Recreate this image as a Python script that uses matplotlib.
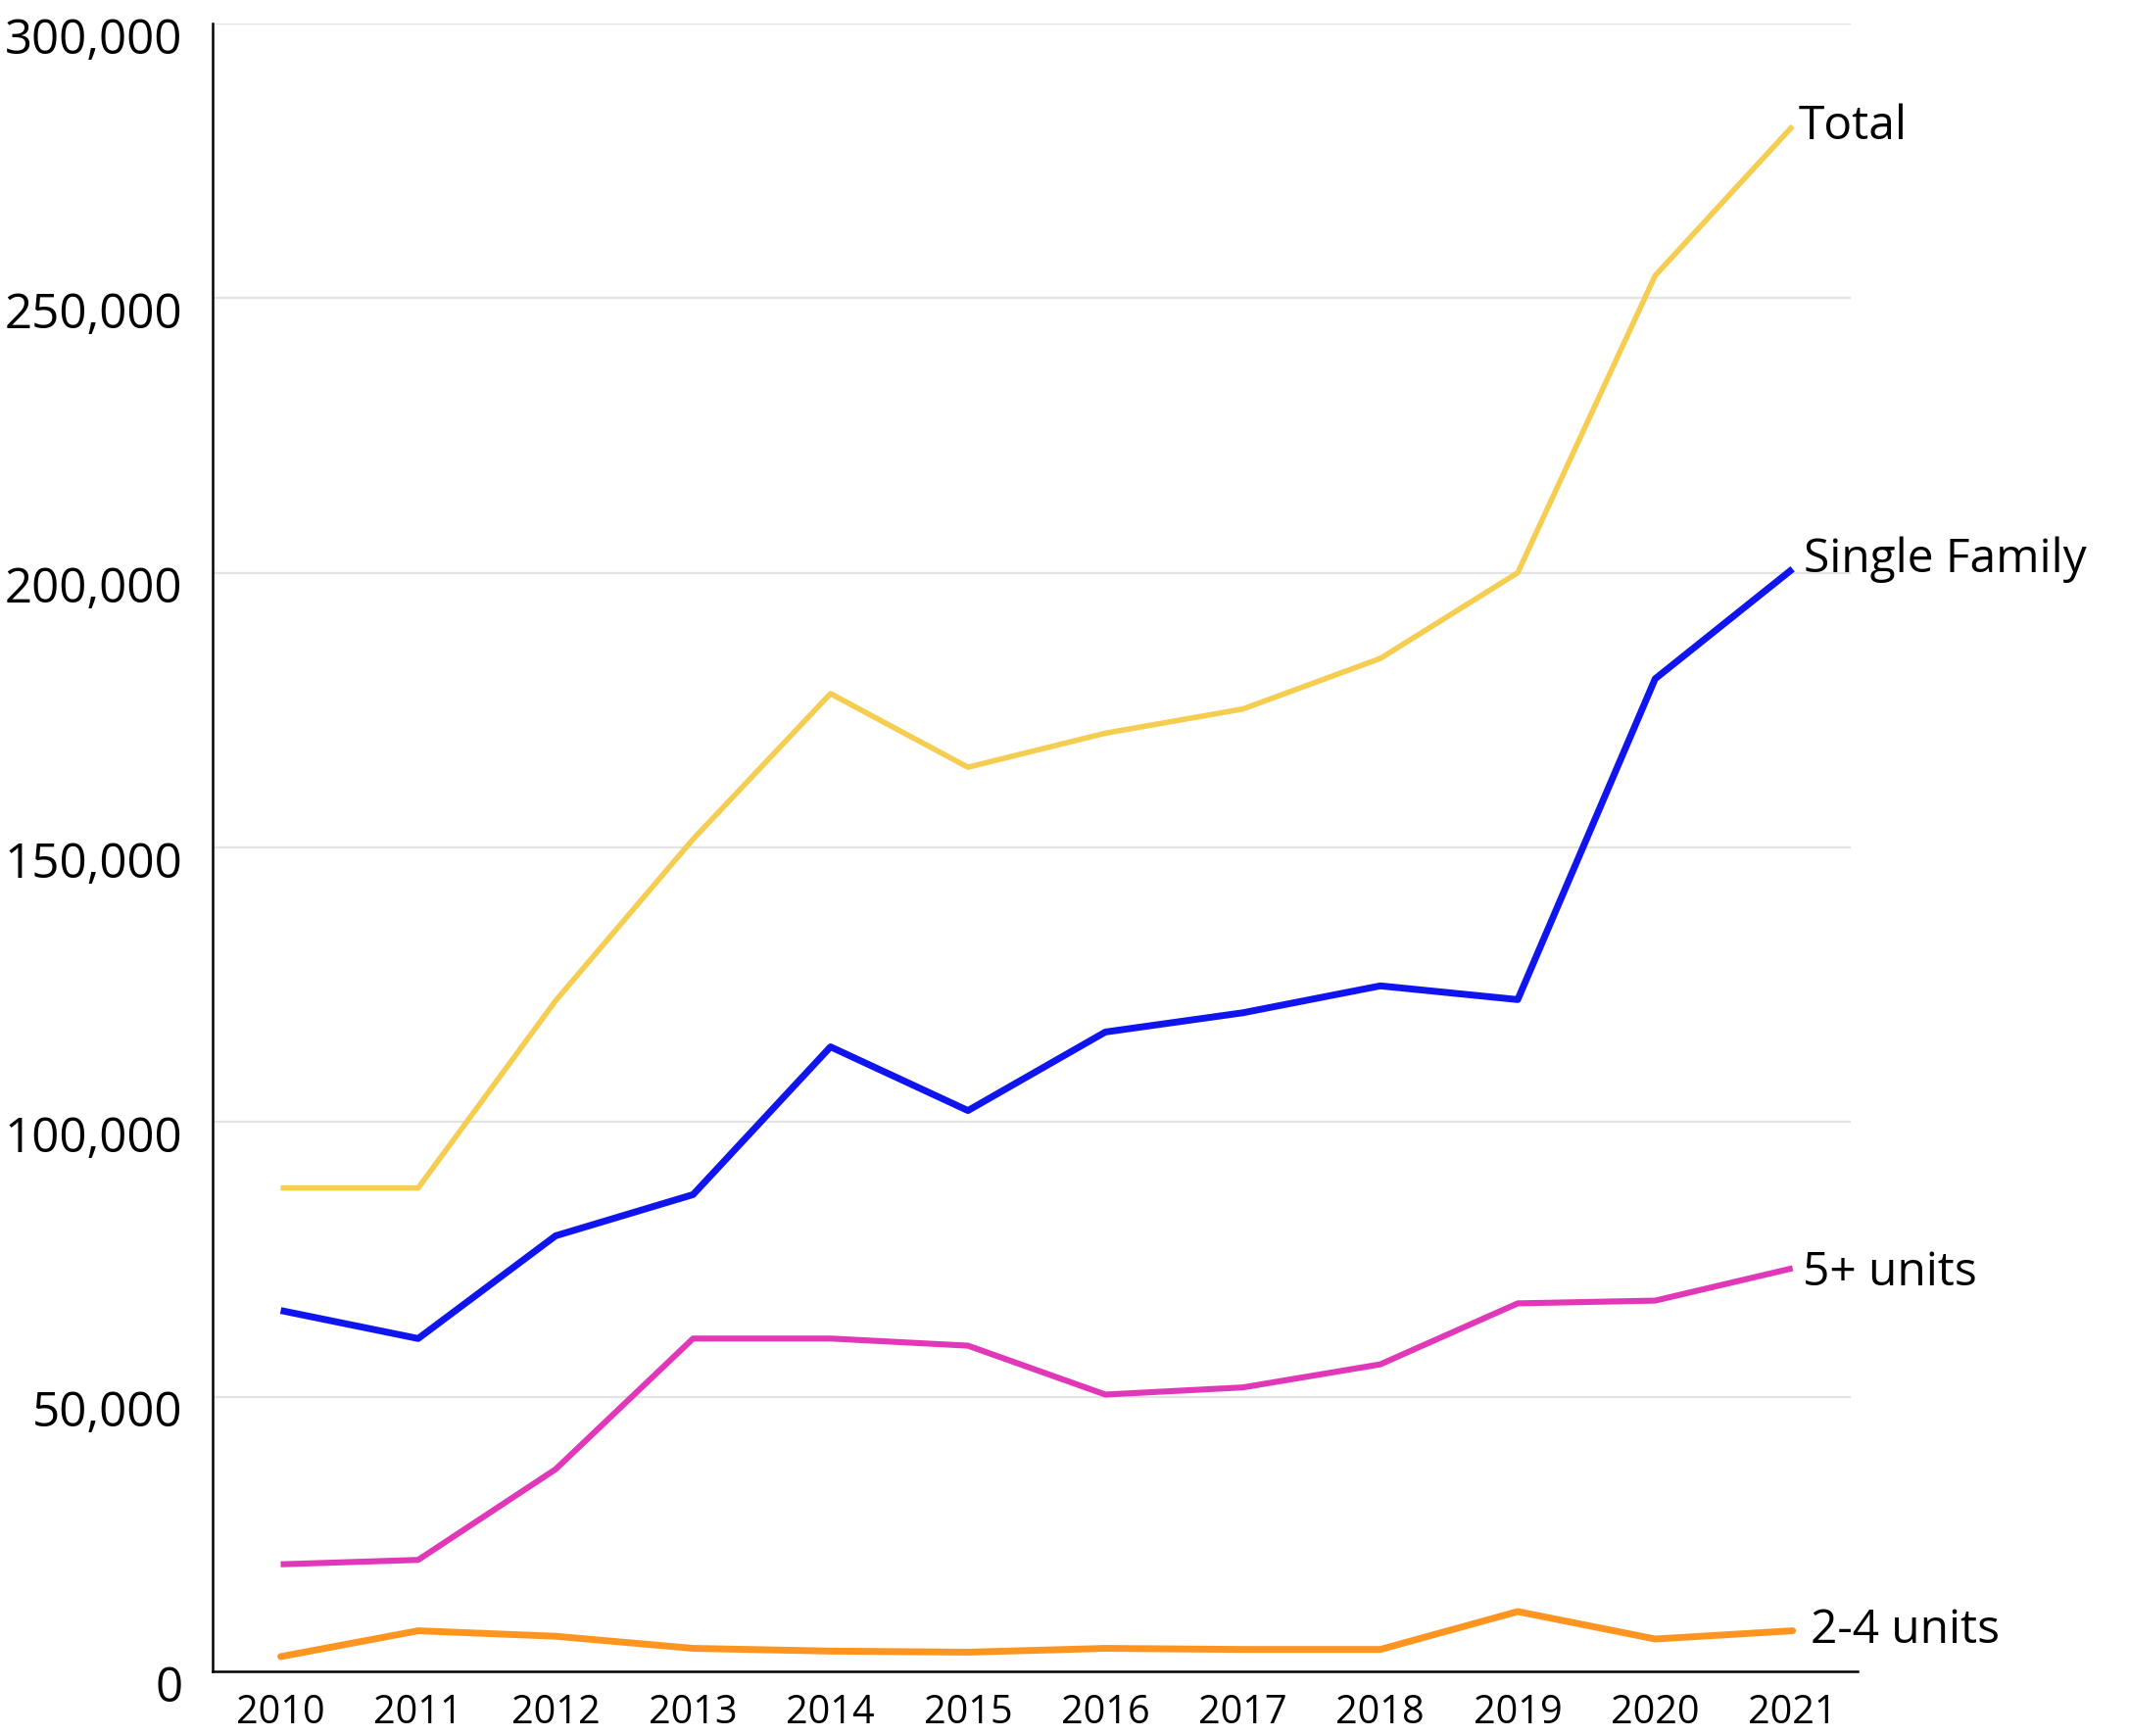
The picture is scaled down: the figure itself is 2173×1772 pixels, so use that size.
import matplotlib
matplotlib.use('Agg')
import matplotlib.pyplot as plt
import matplotlib.transforms as mtransforms
from matplotlib.ticker import FuncFormatter

plt.rcParams['font.family'] = ['Open Sans', 'DejaVu Sans']

# data
years = [2010, 2011, 2012, 2013, 2014, 2015, 2016, 2017, 2018, 2019, 2020, 2021]
total = [88000, 88000, 122100, 151500, 178000, 164600, 170800, 175200, 184400, 200000, 254100, 281300]
single_family = [65700, 60600, 79300, 86800, 113700, 102100, 116400, 119900, 124800, 122300, 180700, 200700]
five_plus = [19500, 20300, 36800, 60600, 60600, 59300, 50400, 51700, 55900, 67000, 67500, 73400]
two_four = [2700, 7400, 6400, 4200, 3700, 3500, 4200, 4000, 4000, 10900, 5900, 7400]

series_names = ['Total', 'Single Family', '5+ units', '2-4 units']
series_values = [total, single_family, five_plus, two_four]
colors = ['#F5CD50', '#1014EE', '#E038B8', '#FF9521']
widths = [4.0, 5.0, 4.4, 5.0]
label_offsets = [(6, 0), (11, 9), (10, -5), (18, 0)]

fig = plt.figure(figsize=(21.73, 17.72), dpi=100)
ax = fig.add_axes([0.0999, 0.0372, 0.7727, 0.9493])

for y in [50000, 100000, 150000, 200000, 250000, 300000]:
    ax.axhline(y, color='#e3e3e3', lw=1.6, zorder=0, xmax=0.995)

for name, vals, c, w, off in zip(series_names, series_values, colors, widths, label_offsets):
    cap = 'round' if name == '2-4 units' else 'butt'
    ax.plot(years, vals, color=c, lw=w, solid_capstyle=cap, zorder=3)
    ax.annotate(name, xy=(years[-1], vals[-1]), xytext=off, textcoords='offset pixels',
                ha='left', va='center', fontsize=34.5, color='black')

ax.set_xlim(2009.505, 2021.474)
ax.set_ylim(0, 300000)
ax.set_xticks(years)
ax.set_yticks(range(0, 300001, 50000))
ax.yaxis.set_major_formatter(FuncFormatter(lambda v, p: f'{int(v):,}'))

for s in ['top', 'right']:
    ax.spines[s].set_visible(False)
for s in ['left', 'bottom']:
    ax.spines[s].set_linewidth(1.8)
    ax.spines[s].set_color('black')

ax.tick_params(axis='x', length=0, pad=16, labelsize=28.5)
ax.tick_params(axis='y', length=0, pad=22, labelsize=35.5)

shift = mtransforms.ScaledTranslation(0, -12 / 100, fig.dpi_scale_trans)
for lab in ax.get_yticklabels():
    lab.set_transform(lab.get_transform() + shift)

fig.savefig('out.png', dpi=100, facecolor='white')
